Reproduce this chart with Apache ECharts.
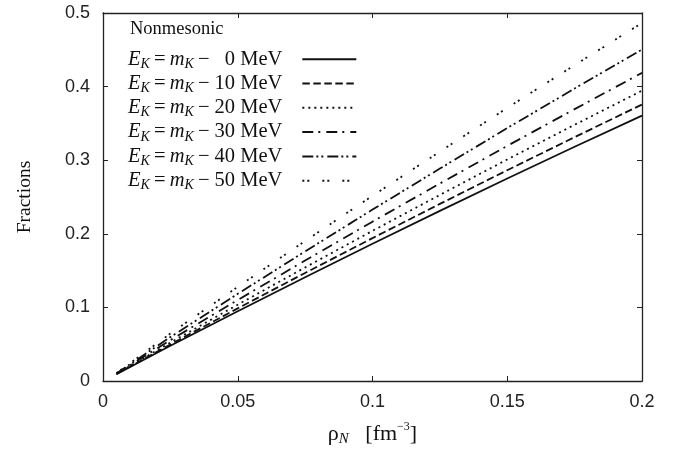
<!DOCTYPE html>
<html>
<head>
<meta charset="utf-8">
<script src="https://cdn.jsdelivr.net/npm/echarts@6/dist/echarts.min.js"></script>
<style>html,body{margin:0;padding:0;background:#fff;}#c{width:686px;height:452px;}</style>
</head>
<body>
<div id="c"></div>
<script>
// density rho_N [fm^-3]
const rho = [0.005, 0.025, 0.05, 0.075, 0.1, 0.125, 0.15, 0.175, 0.2];
// Nonmesonic fractions for E_K = m_K - 0 ... 50 MeV
const frac0  = [0.0092, 0.0478, 0.0948, 0.1410, 0.1865, 0.2311, 0.2751, 0.3182, 0.3606];
const frac10 = [0.0095, 0.0497, 0.0987, 0.1468, 0.1941, 0.2406, 0.2864, 0.3313, 0.3757];
const frac20 = [0.0098, 0.0523, 0.1037, 0.1543, 0.2040, 0.2528, 0.3010, 0.3481, 0.3945];
const frac30 = [0.0100, 0.0555, 0.1101, 0.1637, 0.2165, 0.2683, 0.3194, 0.3694, 0.4187];
const frac40 = [0.0103, 0.0597, 0.1184, 0.1761, 0.2329, 0.2886, 0.3436, 0.3974, 0.4504];
const frac50 = [0.0106, 0.0645, 0.1279, 0.1902, 0.2516, 0.3117, 0.3711, 0.4292, 0.4865];
const energies = ['\u20070', '10', '20', '30', '40', '50'];
const xTicks = ['0', '0.05', '0.1', '0.15', '0.2'];
const yTicks = ['0', '0.1', '0.2', '0.3', '0.4', '0.5'];

const allData = [frac0, frac10, frac20, frac30, frac40, frac50];
const dashes = ['solid', [7.5, 3.5], [2, 4], [11, 5, 2, 6], [11, 3, 2, 3, 2, 4], [2, 3, 2, 13]];
const names = energies.map(e => 'E' + e);

const serif = 'Liberation Serif';
const sans = 'Liberation Sans';

const series = allData.map((d, i) => ({
  name: names[i],
  type: 'line',
  data: rho.map((x, j) => [x, d[j]]),
  symbol: 'none',
  showSymbol: false,
  silent: true,
  animation: false,
  lineStyle: { color: '#111', width: 1.8, type: dashes[i], cap: 'butt' },
  itemStyle: { color: '#111' }
}));

const chart = echarts.init(document.getElementById('c'), null, { renderer: 'canvas' });
chart.setOption({
  animation: false,
  backgroundColor: '#fff',
  title: {
    text: 'Nonmesonic', left: 130, top: 19.5, padding: 0,
    textStyle: { fontFamily: serif, fontWeight: 'normal', fontSize: 18.5, lineHeight: 20, color: '#111' }
  },
  grid: { left: 103, right: 44, top: 13, bottom: 71, containLabel: false },
  legend: {
    orient: 'vertical', left: 128, top: 48.7, padding: 0,
    align: 'right', itemWidth: 54, itemHeight: 24, itemGap: 1.8,
    selectedMode: false,
    itemStyle: { color: 'rgba(0,0,0,0)', borderWidth: 0, opacity: 0 },
    data: names,
    formatter: function (n) {
      const e = n.slice(1);
      return '{i|E}{s|K}{t|\u2009=\u2009}{i|m}{s|K}{t|\u2009\u2212 ' + e + ' }{e|MeV}';
    },
    textStyle: {
      color: '#111',
      rich: {
        i: { fontFamily: serif, fontStyle: 'italic', fontSize: 20.5, lineHeight: 24, color: '#111' },
        s: { fontFamily: serif, fontStyle: 'italic', fontSize: 14, lineHeight: 10, verticalAlign: 'bottom', color: '#111' },
        t: { fontFamily: serif, fontSize: 20.5, lineHeight: 24, color: '#111' },
        e: { fontFamily: serif, fontSize: 20.5, lineHeight: 24, color: '#111', padding: [0, 15, 0, 0] }
      }
    }
  },
  xAxis: [{
    type: 'value', min: 0, max: 0.2, interval: 0.05,
    name: '{t|\u03c1}{s|N}{t|   [fm}{u|\u22123}{t|]}',
    nameLocation: 'middle', nameGap: 40,
    nameTextStyle: {
      rich: {
        t: { fontFamily: serif, fontSize: 22, lineHeight: 26, color: '#111' },
        s: { fontFamily: serif, fontStyle: 'italic', fontSize: 15, lineHeight: 10, verticalAlign: 'bottom', color: '#111' },
        u: { fontFamily: serif, fontSize: 12, lineHeight: 10, verticalAlign: 'top', color: '#111' }
      }
    },
    axisLine: { show: true, onZero: false, lineStyle: { color: '#222', width: 1.3 } },
    axisTick: { show: true, inside: true, length: 5, lineStyle: { color: '#222', width: 1 } },
    axisLabel: {
      margin: 12, fontFamily: sans, fontSize: 18, color: '#222',
      formatter: function (v) { return xTicks[Math.round(v / 0.05)]; }
    },
    splitLine: { show: false }
  }, {
    type: 'value', min: 0, max: 0.2, interval: 0.05, position: 'top',
    axisLine: { show: true, onZero: false, lineStyle: { color: '#222', width: 1.3 } },
    axisTick: { show: true, inside: true, length: 5, lineStyle: { color: '#222', width: 1 } },
    axisLabel: { show: false }, splitLine: { show: false }
  }],
  yAxis: [{
    type: 'value', min: 0, max: 0.5, interval: 0.1,
    name: 'Fractions', nameLocation: 'middle', nameGap: 68, nameRotate: 90,
    nameTextStyle: { fontFamily: serif, fontSize: 19.5, color: '#111' },
    axisLine: { show: true, onZero: false, lineStyle: { color: '#222', width: 1.3 } },
    axisTick: { show: true, inside: true, length: 5, lineStyle: { color: '#222', width: 1 } },
    axisLabel: {
      margin: 13, fontFamily: sans, fontSize: 18, color: '#222',
      formatter: function (v) { return yTicks[Math.round(v / 0.1)]; }
    },
    splitLine: { show: false }
  }, {
    type: 'value', min: 0, max: 0.5, interval: 0.1, position: 'right',
    axisLine: { show: true, onZero: false, lineStyle: { color: '#222', width: 1.3 } },
    axisTick: { show: true, inside: true, length: 5, lineStyle: { color: '#222', width: 1 } },
    axisLabel: { show: false }, splitLine: { show: false }
  }],
  series: series
});
</script>
</body>
</html>
